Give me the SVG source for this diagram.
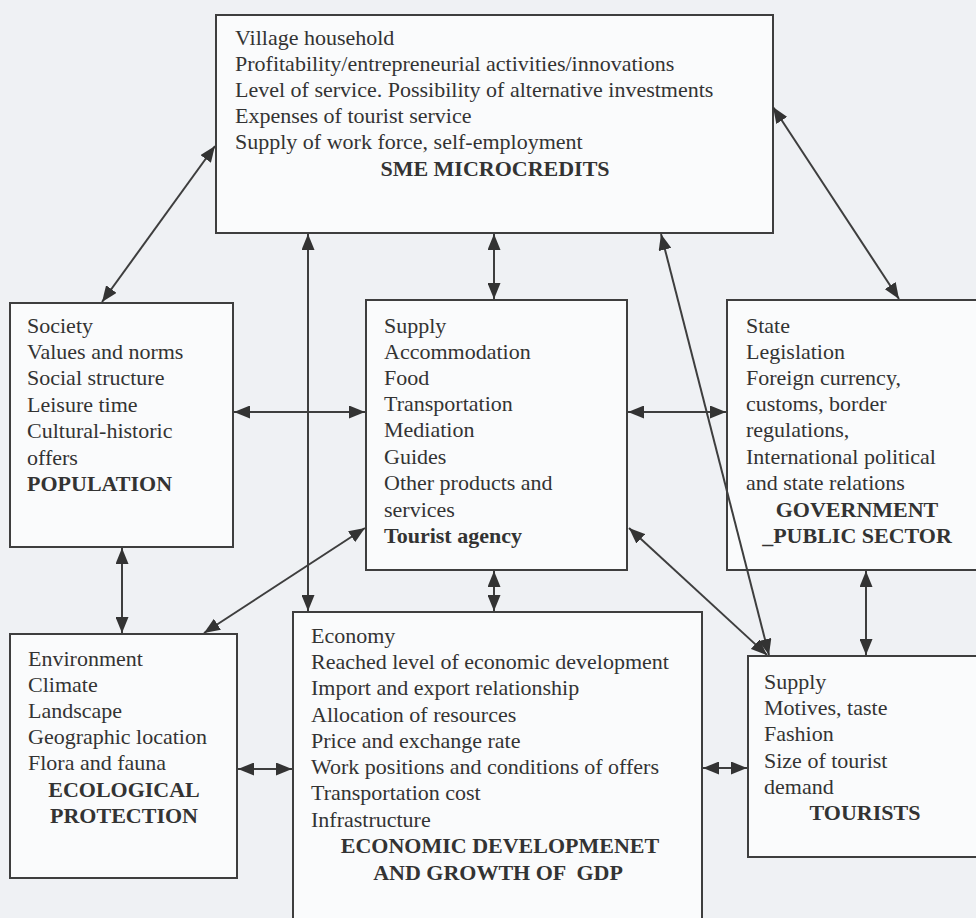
<svg xmlns="http://www.w3.org/2000/svg" width="976" height="918" viewBox="0 0 976 918">
<style>
.bg{fill:#eff1f4}
.box{fill:#fafbfc;stroke:#3e3e3e;stroke-width:2}
text{font-family:"Liberation Serif","Times New Roman",serif;font-size:22px;fill:#333}
.b{font-weight:bold}
.m{text-anchor:middle}
.c{fill:none;stroke:#3e3e3e;stroke-width:2;marker-start:url(#ah);marker-end:url(#ah)}
</style>
<defs>
<marker id="ah" viewBox="0 0 16 13" refX="16" refY="6.5" markerWidth="16" markerHeight="13" markerUnits="userSpaceOnUse" orient="auto-start-reverse">
<path d="M0,0 L16,6.5 L0,13 z" fill="#333"/>
</marker>
</defs>
<rect class="bg" x="0" y="0" width="976" height="918"/>

<g id="sme">
<rect class="box" x="216" y="15" width="557" height="218"/>
<text x="235" y="45">Village household</text>
<text x="235" y="71">Profitability/entrepreneurial activities/innovations</text>
<text x="235" y="97">Level of service. Possibility of alternative investments</text>
<text x="235" y="123">Expenses of tourist service</text>
<text x="235" y="149">Supply of work force, self-employment</text>
<text class="b m" x="495" y="176">SME MICROCREDITS</text>
</g>

<g id="population">
<rect class="box" x="10" y="303" width="223" height="244"/>
<text x="27" y="333">Society</text>
<text x="27" y="359">Values and norms</text>
<text x="27" y="385">Social structure</text>
<text x="27" y="412">Leisure time</text>
<text x="27" y="438">Cultural-historic</text>
<text x="27" y="465">offers</text>
<text class="b" x="27" y="491">POPULATION</text>
</g>

<g id="tourist-agency">
<rect class="box" x="366" y="300" width="261" height="270"/>
<text x="384" y="333">Supply</text>
<text x="384" y="359">Accommodation</text>
<text x="384" y="385">Food</text>
<text x="384" y="411">Transportation</text>
<text x="384" y="437">Mediation</text>
<text x="384" y="464">Guides</text>
<text x="384" y="490">Other products and</text>
<text x="384" y="517">services</text>
<text class="b" x="384" y="543">Tourist agency</text>
</g>

<g id="government">
<rect class="box" x="727" y="300" width="262" height="270"/>
<text x="746" y="333">State</text>
<text x="746" y="359">Legislation</text>
<text x="746" y="385">Foreign currency,</text>
<text x="746" y="411">customs, border</text>
<text x="746" y="437">regulations,</text>
<text x="746" y="464">International political</text>
<text x="746" y="490">and state relations</text>
<text class="b m" x="857" y="517">GOVERNMENT</text>
<text class="b m" x="857" y="543">_PUBLIC SECTOR</text>
</g>

<g id="ecological">
<rect class="box" x="10" y="634" width="227" height="244"/>
<text x="28" y="666">Environment</text>
<text x="28" y="692">Climate</text>
<text x="28" y="718">Landscape</text>
<text x="28" y="744">Geographic location</text>
<text x="28" y="770">Flora and fauna</text>
<text class="b m" x="124" y="797">ECOLOGICAL</text>
<text class="b m" x="124" y="823">PROTECTION</text>
</g>

<g id="economic">
<rect class="box" x="293" y="612" width="409" height="330"/>
<text x="311" y="643">Economy</text>
<text x="311" y="669">Reached level of economic development</text>
<text x="311" y="695">Import and export relationship</text>
<text x="311" y="722">Allocation of resources</text>
<text x="311" y="748">Price and exchange rate</text>
<text x="311" y="774">Work positions and conditions of offers</text>
<text x="311" y="800">Transportation cost</text>
<text x="311" y="827">Infrastructure</text>
<text class="b m" x="500" y="853">ECONOMIC DEVELOPMENET</text>
<text class="b m" x="498" y="880" xml:space="preserve">AND GROWTH OF  GDP</text>
</g>

<g id="tourists">
<rect class="box" x="748" y="656" width="240" height="201"/>
<text x="764" y="689">Supply</text>
<text x="764" y="715">Motives, taste</text>
<text x="764" y="741">Fashion</text>
<text x="764" y="768">Size of tourist</text>
<text x="764" y="794">demand</text>
<text class="b m" x="865" y="820">TOURISTS</text>
</g>

<g id="connectors">
<line class="c" x1="102" y1="302" x2="215" y2="146"/>
<line class="c" x1="308" y1="234" x2="308" y2="611"/>
<line class="c" x1="494" y1="234" x2="494" y2="299"/>
<line class="c" x1="661" y1="234" x2="769" y2="655"/>
<line class="c" x1="629" y1="528" x2="767" y2="655"/>
<line class="c" x1="234" y1="412" x2="365" y2="412"/>
<line class="c" x1="628" y1="412" x2="726" y2="412"/>
<line class="c" x1="365" y1="528" x2="204" y2="633"/>
<line class="c" x1="122" y1="548" x2="122" y2="633"/>
<line class="c" x1="238" y1="769" x2="292" y2="769"/>
<line class="c" x1="494" y1="571" x2="494" y2="611"/>
<line class="c" x1="703" y1="768" x2="747" y2="768"/>
<line class="c" x1="866" y1="571" x2="866" y2="655"/>
<line class="c" x1="773" y1="107" x2="899" y2="299"/>
</g>
</svg>
